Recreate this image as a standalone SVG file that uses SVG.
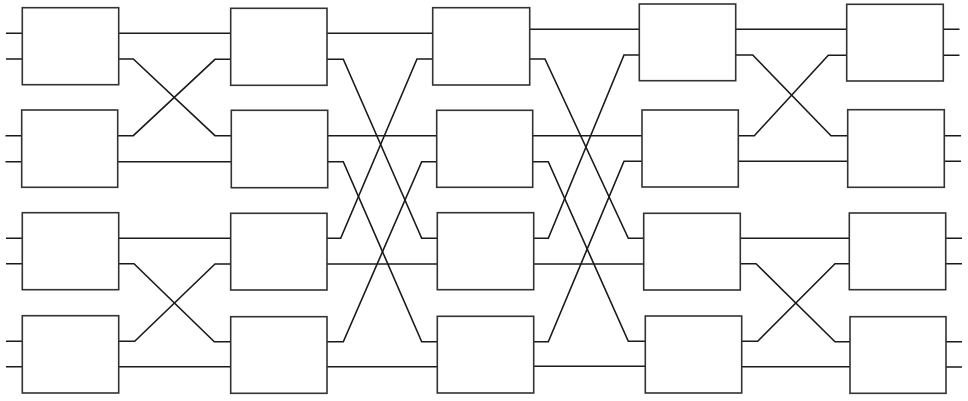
<svg xmlns="http://www.w3.org/2000/svg" width="968" height="401" viewBox="0 0 968 401">
<style>
.box{fill:#fff;stroke:#333;stroke-width:1.6}
.w{fill:none;stroke:#1a1a1a;stroke-width:1.6;stroke-linejoin:miter}
</style>
<rect width="968" height="401" fill="#fff"/>
<g id="connectors">
<path class="w" d="M6,33.3H22.3M6,59H22.3M5.5,135.7H21.7M5.5,161.7H21.7M6,238.3H22.3M6,263.7H22.3M6,341.3H22.3M6,366.7H22.3"/>
<path class="w" d="M943.3,29.3H959.5M943.3,55.3H959.5M944.3,135.7H961M944.3,161.3H961M945.7,238.3H962M945.7,263.7H962M946,341.7H962M946,367H962"/>
<polyline class="w" points="118.7,33.3 230.7,33.3"/>
<polyline class="w" points="118.7,59 133.3,59 215,135.7 231.3,135.7"/>
<polyline class="w" points="117.7,135.7 133.3,135.7 215,59.3 230.7,59.3"/>
<polyline class="w" points="117.7,161.7 231.3,161.7"/>
<polyline class="w" points="118.7,238.3 230.7,238.3"/>
<polyline class="w" points="118.7,263.7 134,263.7 214.3,341.7 230.7,341.7"/>
<polyline class="w" points="118.7,341.3 134.7,341.3 215,264 230.7,264"/>
<polyline class="w" points="118.7,366.7 230.7,366.7"/>
<polyline class="w" points="327,33.3 432.7,33.3"/>
<polyline class="w" points="327,59.3 343.3,59.3 421.7,238.3 437.3,238.3"/>
<polyline class="w" points="327.7,135.7 436.7,135.7"/>
<polyline class="w" points="327.7,161.7 343.3,161.7 421.7,341.7 437.3,341.7"/>
<polyline class="w" points="327,238.3 340.7,238.3 417,59 432.7,59"/>
<polyline class="w" points="327,264 437.3,264"/>
<polyline class="w" points="327,341.7 343.3,341.7 421.7,161.7 436.7,161.7"/>
<polyline class="w" points="327,366.7 437.3,366.7"/>
<polyline class="w" points="529.7,29.3 639.3,29.3"/>
<polyline class="w" points="529.7,59 545,59 628.3,238.3 643.7,238.3"/>
<polyline class="w" points="532.7,135.7 642,135.7"/>
<polyline class="w" points="532.7,161.7 548.3,161.7 628.3,341.3 645.3,341.3"/>
<polyline class="w" points="533.7,238.3 548.3,238.3 624,55 639.3,55"/>
<polyline class="w" points="533.7,264 643.7,264"/>
<polyline class="w" points="533.7,341.7 548.3,341.7 624,161.3 642,161.3"/>
<polyline class="w" points="533.7,366.3 645.3,366.3"/>
<polyline class="w" points="735.7,29.3 846.7,29.3"/>
<polyline class="w" points="735.7,55 752.7,55 831,135.7 847.7,135.7"/>
<polyline class="w" points="738.3,135.7 754.3,135.7 828.3,55.3 846.7,55.3"/>
<polyline class="w" points="738.3,161.3 847.7,161.3"/>
<polyline class="w" points="740.3,238.3 849.3,238.3"/>
<polyline class="w" points="740.3,263.7 756,263.7 835,341.7 850,341.7"/>
<polyline class="w" points="741.7,341.3 757.7,341.3 835,263.7 849.3,263.7"/>
<polyline class="w" points="741.7,366.7 850,366.7"/>
</g>
<g id="s1b1"><rect class="box" x="22.3" y="7.7" width="96.4" height="77"/></g>
<g id="s1b2"><rect class="box" x="21.7" y="110" width="96" height="77.3"/></g>
<g id="s1b3"><rect class="box" x="22.3" y="212.7" width="96.4" height="77"/></g>
<g id="s1b4"><rect class="box" x="22.3" y="315.7" width="96.4" height="77.3"/></g>
<g id="s2b1"><rect class="box" x="230.7" y="8.3" width="96.3" height="77"/></g>
<g id="s2b2"><rect class="box" x="231.3" y="110.3" width="96.4" height="77.4"/></g>
<g id="s2b3"><rect class="box" x="230.7" y="213.3" width="96.3" height="76.7"/></g>
<g id="s2b4"><rect class="box" x="230.7" y="316.7" width="96.3" height="76.6"/></g>
<g id="s3b1"><rect class="box" x="432.7" y="7.7" width="97" height="77.3"/></g>
<g id="s3b2"><rect class="box" x="436.7" y="110.3" width="96" height="77"/></g>
<g id="s3b3"><rect class="box" x="437.3" y="212.7" width="96.4" height="77"/></g>
<g id="s3b4"><rect class="box" x="437.3" y="316.3" width="96.4" height="76.7"/></g>
<g id="s4b1"><rect class="box" x="639.3" y="4" width="96.4" height="76.7"/></g>
<g id="s4b2"><rect class="box" x="642" y="110" width="96.3" height="77"/></g>
<g id="s4b3"><rect class="box" x="643.7" y="213.3" width="96.6" height="76.7"/></g>
<g id="s4b4"><rect class="box" x="645.3" y="316" width="96.4" height="77"/></g>
<g id="s5b1"><rect class="box" x="846.7" y="4.3" width="96.6" height="76.7"/></g>
<g id="s5b2"><rect class="box" x="847.7" y="109.7" width="96.6" height="77.6"/></g>
<g id="s5b3"><rect class="box" x="849.3" y="213" width="96.4" height="76.7"/></g>
<g id="s5b4"><rect class="box" x="850" y="316.7" width="96" height="76.6"/></g>
</svg>
